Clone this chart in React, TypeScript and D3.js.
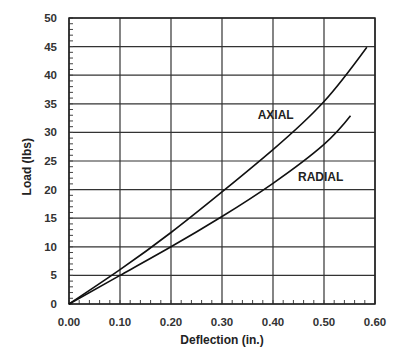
import React, { useRef, useEffect } from 'react';
import * as d3 from 'd3';

// deflection (in.) vs load (lbs)
const axialDeflection = [0, 0.1, 0.2, 0.3, 0.4, 0.5, 0.584];
const axialLoad = [0, 6.0, 12.5, 19.6, 27.0, 35.4, 44.9];
const radialDeflection = [0, 0.1, 0.2, 0.3, 0.4, 0.5, 0.552];
const radialLoad = [0, 5.0, 10.0, 15.3, 21.1, 27.9, 32.9];

const xTicks = [0, 0.1, 0.2, 0.3, 0.4, 0.5, 0.6];
const yTicks = [0, 5, 10, 15, 20, 25, 30, 35, 40, 45, 50];

const App = () => {
  const svgRef = useRef<SVGSVGElement | null>(null);

  useEffect(() => {
    const svg = d3.select(svgRef.current);
    svg.selectAll('*').remove();

    const margin = { top: 18, right: 28, bottom: 46, left: 69 };
    const width = 403 - margin.left - margin.right;
    const height = 350 - margin.top - margin.bottom;
    const font = '"Liberation Sans", Arial, sans-serif';
    const ink = '#222';

    const x = d3.scaleLinear().domain([0, 0.6]).range([0, width]);
    const y = d3.scaleLinear().domain([0, 50]).range([height, 0]);

    const g = svg.append('g').attr('transform', `translate(${margin.left}, ${margin.top})`);

    // grid
    g.selectAll('.vgrid')
      .data(xTicks)
      .enter()
      .append('line')
      .attr('x1', (d) => x(d))
      .attr('x2', (d) => x(d))
      .attr('y1', 0)
      .attr('y2', height)
      .attr('stroke', '#333')
      .attr('stroke-width', 1.2);

    g.selectAll('.hgrid')
      .data(yTicks)
      .enter()
      .append('line')
      .attr('x1', 0)
      .attr('x2', width)
      .attr('y1', (d) => y(d))
      .attr('y2', (d) => y(d))
      .attr('stroke', '#333')
      .attr('stroke-width', 1.2);

    // minor ticks
    g.selectAll('.xminor')
      .data(d3.range(0, 0.6001, 0.02))
      .enter()
      .append('line')
      .attr('x1', (d) => x(d))
      .attr('x2', (d) => x(d))
      .attr('y1', height)
      .attr('y2', height - 4)
      .attr('stroke', '#444')
      .attr('stroke-width', 1);

    g.selectAll('.yminor')
      .data(d3.range(0, 50.01, 1))
      .enter()
      .append('line')
      .attr('x1', 0)
      .attr('x2', 4)
      .attr('y1', (d) => y(d))
      .attr('y2', (d) => y(d))
      .attr('stroke', '#444')
      .attr('stroke-width', 1);

    // frame
    g.append('rect')
      .attr('width', width)
      .attr('height', height)
      .attr('fill', 'none')
      .attr('stroke', '#222')
      .attr('stroke-width', 1.5);

    // curves
    const line = d3
      .line<[number, number]>()
      .x((d) => x(d[0]))
      .y((d) => y(d[1]))
      .curve(d3.curveNatural);

    const axial = axialDeflection.map((d, i) => [d, axialLoad[i]] as [number, number]);
    const radial = radialDeflection.map((d, i) => [d, radialLoad[i]] as [number, number]);

    [axial, radial].forEach((pts) => {
      g.append('path')
        .attr('d', line(pts))
        .attr('fill', 'none')
        .attr('stroke', '#111')
        .attr('stroke-width', 1.6);
    });

    g.append('text')
      .attr('x', x(0.37))
      .attr('y', y(32.3))
      .text('AXIAL')
      .attr('font-family', font)
      .attr('font-weight', 'bold')
      .attr('font-size', 12)
      .attr('fill', ink);

    g.append('text')
      .attr('x', x(0.449))
      .attr('y', y(21.5))
      .text('RADIAL')
      .attr('font-family', font)
      .attr('font-weight', 'bold')
      .attr('font-size', 12)
      .attr('fill', ink);

    // tick labels
    g.selectAll('.xlab')
      .data(xTicks)
      .enter()
      .append('text')
      .attr('x', (d) => x(d))
      .attr('y', height + 22)
      .attr('text-anchor', 'middle')
      .text((d) => d.toFixed(2))
      .attr('font-family', font)
      .attr('font-weight', 'bold')
      .attr('font-size', 11.5)
      .attr('fill', '#333');

    g.selectAll('.ylab')
      .data(yTicks)
      .enter()
      .append('text')
      .attr('x', -12)
      .attr('y', (d) => y(d) + 4)
      .attr('text-anchor', 'end')
      .text((d) => d)
      .attr('font-family', font)
      .attr('font-weight', 'bold')
      .attr('font-size', 11.5)
      .attr('fill', '#333');

    // axis titles
    g.append('text')
      .attr('x', width / 2)
      .attr('y', height + 40)
      .attr('text-anchor', 'middle')
      .text('Deflection (in.)')
      .attr('font-family', font)
      .attr('font-weight', 'bold')
      .attr('font-size', 12)
      .attr('fill', ink);

    g.append('text')
      .attr('transform', `translate(-38, ${y(24)}) rotate(-90)`)
      .attr('text-anchor', 'middle')
      .text('Load (lbs)')
      .attr('font-family', font)
      .attr('font-weight', 'bold')
      .attr('font-size', 12)
      .attr('fill', ink);
  }, []);

  return (
    <div style={{ position: 'absolute', left: 0, top: 0 }}>
      <svg ref={svgRef} width={403} height={350} style={{ display: 'block', background: '#fff' }}></svg>
    </div>
  );
};

export default App;
